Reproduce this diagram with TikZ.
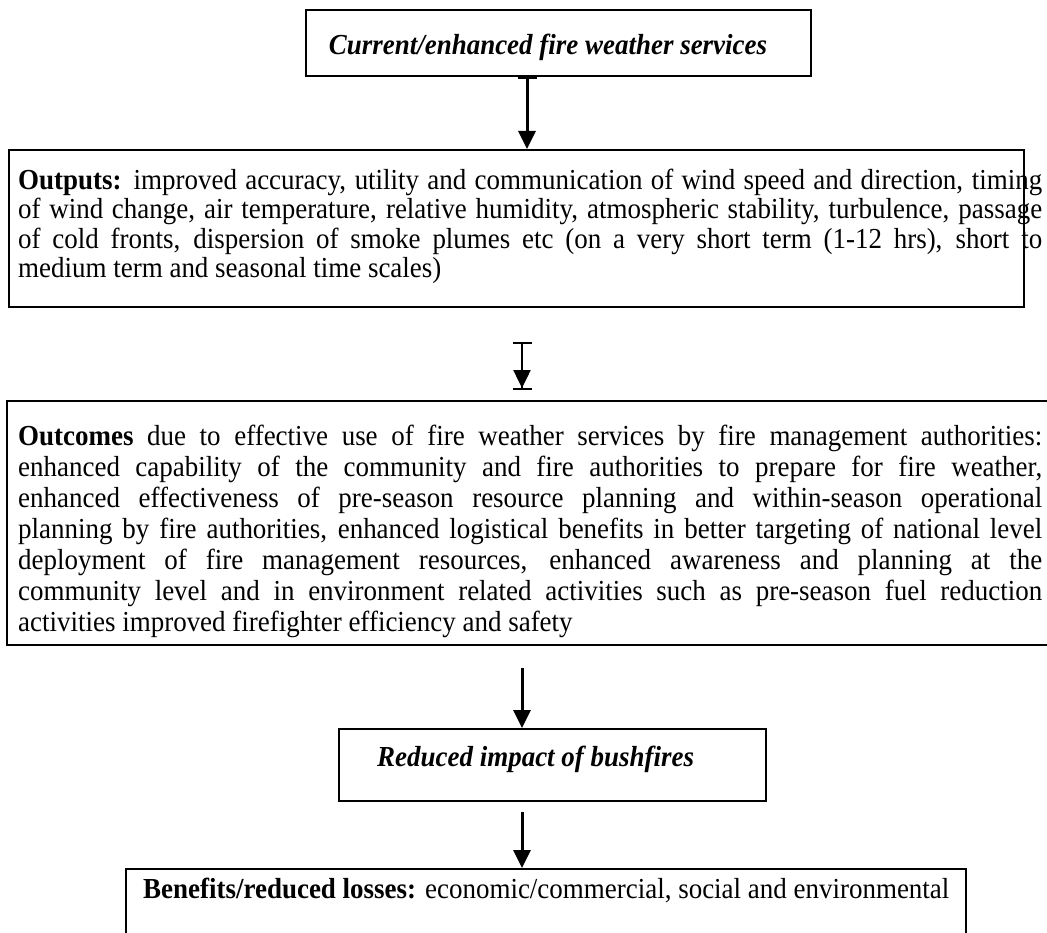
\documentclass[tikz,border=0pt]{standalone}
\usepackage{fontspec}
\setmainfont{Liberation Serif}[FakeStretch=0.93]
\usetikzlibrary{arrows.meta}
\newcommand{\jline}[1]{\makebox[1024pt][s]{#1}}
\newcommand{\fsizeA}{\fontsize{29}{29.5}\selectfont\lineskiplimit=-30pt\relax}
\newcommand{\fsizeB}{\fontsize{29}{31}\selectfont\lineskiplimit=-30pt\relax}
\newcommand{\topstrut}{\rule{0pt}{22pt}}
\begin{document}
\begin{tikzpicture}[x=1pt,y=-1pt,
  box/.style={draw, line width=1.8pt, inner sep=0pt, anchor=north west},
  body/.style={anchor=north west, inner sep=0pt, align=left},
  head/.style={anchor=base, inner sep=0pt, font=\fsizeB\bfseries\itshape},
  arr/.style={line width=3pt, -{Triangle[length=18pt,width=17pt]}},
  barr/.style={line width=3pt, {Bar[width=19pt,line width=2pt]}-{Triangle[length=18pt,width=17pt]}},
  bbarr/.style={line width=2.5pt, {Bar[width=19pt,line width=2pt]}-{Triangle[length=18pt,width=17pt] Bar[width=19pt,line width=2pt,sep=0pt]}}]
\useasboundingbox (0,0) rectangle (1047,933);
\clip (0,0) rectangle (1047,933);
\fill[white] (0,0) rectangle (1047,933);

% boxes
\node[box, minimum width=505pt, minimum height=66pt] (b1) at (305,9) {};
\node[box, minimum width=1015pt, minimum height=157pt] (b2) at (8,149) {};
\node[box, minimum width=1060pt, minimum height=244pt] (b3) at (6,400) {};
\node[box, minimum width=427pt, minimum height=72pt] (b4) at (338,728) {};
\node[box, minimum width=840pt, minimum height=90pt] (b5) at (125,868) {};

% texts
\node[head] (t1) at (548,55) {Current/enhanced fire weather services};
\node[body, font=\fsizeA] (t2) at (18,167) {%
\topstrut\jline{\textbf{Outputs:} improved accuracy, utility and communication of wind speed and direction, timing}\\
\jline{of wind change, air temperature, relative humidity, atmospheric stability, turbulence, passage}\\
\jline{of cold fronts, dispersion of smoke plumes etc (on a very short term (1-12 hrs), short to}\\
medium term and seasonal time scales)};
\node[body, font=\fsizeB] (t3) at (18,423) {%
\topstrut\jline{\textbf{Outcomes} due to effective use of fire weather services by fire management authorities:}\\
\jline{enhanced capability of the community and fire authorities to prepare for fire weather,}\\
\jline{enhanced effectiveness of pre-season resource planning and within-season operational}\\
\jline{planning by fire authorities, enhanced logistical benefits in better targeting of national level}\\
\jline{deployment of fire management resources, enhanced awareness and planning at the}\\
\jline{community level and in environment related activities such as pre-season fuel reduction}\\
activities improved firefighter efficiency and safety};
\node[head, anchor=base west] (t4) at (377,766) {Reduced impact of bushfires};
\node[anchor=base west, inner sep=0pt, font=\fsizeB] (t5) at (143,898) {\textbf{Benefits/reduced losses:} economic/commercial, social and environmental};

% connector x positions
\coordinate (x1) at (527,0);
\coordinate (x2) at (522,0);
\coordinate (s2) at (522,342);
\coordinate (e2) at (522,390);
\coordinate (s3) at (522,668);
\coordinate (s4) at (522,812);

\draw[barr] (b1.south -| x1) -- (b2.north -| x1);
\draw[bbarr] (s2) -- (e2);
\draw[arr] (s3) -- (b4.north -| x2);
\draw[arr] (s4) -- (b5.north -| x2);
\end{tikzpicture}
\end{document}
